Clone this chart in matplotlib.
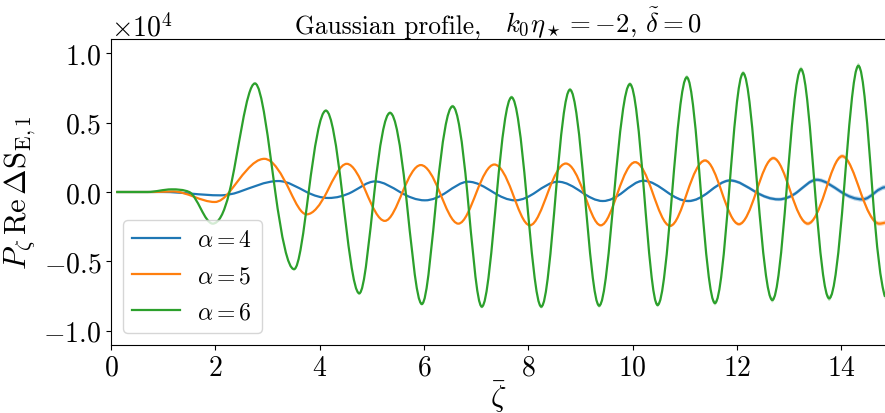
import numpy as np
import matplotlib
matplotlib.use("Agg")
import matplotlib.pyplot as plt
from matplotlib.path import Path
from matplotlib.patches import PathPatch

plt.rcParams['font.family'] = ['serif']
plt.rcParams['font.serif'] = ['cmr10', 'DejaVu Serif']
plt.rcParams['mathtext.fontset'] = 'cm'
plt.rcParams['axes.formatter.use_mathtext'] = True
plt.rcParams['axes.unicode_minus'] = True

# ---- data (y values in units of 1e4) ----
UNIT = 1e4

blue_x = [0.10, 1.00, 2.09, 2.45, 3.21, 3.75, 4.17, 4.62, 5.06, 5.54, 6.02, 6.44,
          6.85, 7.32, 7.75, 8.15, 8.57, 9.02, 9.43, 9.82, 10.21, 10.66, 11.07,
          11.46, 11.87, 12.36, 12.80, 13.16, 13.53, 14.00, 14.41, 14.66, 14.84]
blue_y = [0.0, 0.0, -0.024, 0.0, 0.079, 0.0, -0.043, 0.0, 0.076, 0.0, -0.060, 0.0,
          0.074, 0.0, -0.060, 0.0, 0.074, 0.0, -0.065, 0.0, 0.081, 0.0, -0.065,
          0.0, 0.083, 0.0, -0.053, 0.0, 0.088, 0.0, -0.053, 0.0, 0.035]

orange_x = [0.10, 0.80, 1.19, 1.99, 2.27, 2.94, 3.44, 3.75, 4.14, 4.52, 4.89, 5.25,
            5.59, 5.94, 6.30, 6.66, 7.01, 7.35, 7.69, 8.03, 8.38, 8.72, 9.06, 9.39,
            9.72, 10.05, 10.38, 10.72, 11.05, 11.39, 11.71, 12.04, 12.37, 12.70,
            13.03, 13.36, 13.69, 14.02, 14.37, 14.73, 14.84]
orange_y = [0.0, 0.0, 0.004, -0.072, 0.0, 0.239, 0.0, -0.161, 0.0, 0.203, 0.0, -0.208,
            0.0, 0.194, 0.0, -0.228, 0.0, 0.198, 0.0, -0.240, 0.0, 0.205, 0.0, -0.240,
            0.0, 0.215, 0.0, -0.244, 0.0, 0.227, 0.0, -0.232, 0.0, 0.244,
            0.0, -0.228, 0.0, 0.258, 0.0, -0.228, -0.220]

green_x = [0.10, 0.70, 1.16, 1.50, 1.95, 2.27, 2.76, 3.15, 3.51, 3.79, 4.12, 4.43,
           4.76, 5.05, 5.35, 5.65, 5.96, 6.25, 6.55, 6.83, 7.11, 7.40, 7.68, 7.96,
           8.25, 8.53, 8.80, 9.08, 9.36, 9.65, 9.95, 10.22, 10.48, 10.76, 11.04,
           11.31, 11.58, 11.85, 12.12, 12.40, 12.68, 12.95, 13.23, 13.50, 13.77,
           14.05, 14.33, 14.60, 14.84]
green_y = [0.0, 0.0, 0.019, 0.0, -0.228, 0.0, 0.782, 0.0, -0.556, 0.0, 0.586, 0.0,
           -0.730, 0.0, 0.570, 0.0, -0.807, 0.0, 0.617, 0.0, -0.826, 0.0, 0.682, 0.0,
           -0.826, 0.0, 0.737, 0.0, -0.819, 0.0, 0.777, 0.0, -0.814, 0.0, 0.826,
           0.0, -0.800, 0.0, 0.856, 0.0, -0.778, 0.0, 0.885, 0.0, -0.766,
           0.0, 0.909, 0.0, -0.755]

# uncertainty band half-widths (units of 1e4) read at a few abscissae
err_x = [0.0, 4.0, 8.0, 11.0, 14.84]
blue_err = [0.0, 0.001, 0.004, 0.009, 0.018]
orange_err = [0.0, 0.002, 0.005, 0.010, 0.017]
green_err = [0.0, 0.010, 0.013, 0.016, 0.020]

labels = [r'$\alpha = 4$', r'$\alpha = 5$', r'$\alpha = 6$']
colors = ['#1f77b4', '#ff7f0e', '#2ca02c']
title_text = 'Gaussian profile,'
title_math = r'$k_0\eta_\star = -2$, $\tilde{\delta} = 0$'


def knot_slopes(x, y):
    x = np.asarray(x, float); y = np.asarray(y, float)
    s = np.diff(y) / np.diff(x)
    m = np.zeros(len(x))
    for i in range(1, len(x) - 1):
        if s[i - 1] * s[i] > 0:
            hm = 2 * s[i - 1] * s[i] / (s[i - 1] + s[i])
            lim = 3 * min(abs(s[i - 1]), abs(s[i]))
            m[i] = np.sign(hm) * min(abs(np.pi / 2 * hm), lim)
    me = 2 * s[-1] - m[-2]
    m[-1] = me if me * s[-1] > 0 else 0.0
    return m


def bezier_vertices(x, y):
    x = np.asarray(x, float); y = np.asarray(y, float)
    m = knot_slopes(x, y)
    verts = [(x[0], y[0])]
    for i in range(len(x) - 1):
        h = x[i + 1] - x[i]
        verts.append((x[i] + h / 3, y[i] + m[i] * h / 3))
        verts.append((x[i + 1] - h / 3, y[i + 1] - m[i + 1] * h / 3))
        verts.append((x[i + 1], y[i + 1]))
    return np.array(verts)


DPI = 100
W, H = 885, 414
fig = plt.figure(figsize=(W / DPI, H / DPI), dpi=DPI)
ax = fig.add_axes([111 / W, 1 - 345.7 / H, (W - 111) / W, (345.7 - 40.3) / H])

series = [(blue_x, blue_y, blue_err), (orange_x, orange_y, orange_err),
          (green_x, green_y, green_err)]

for k, ((xs, ys, es), col, lab) in enumerate(zip(series, colors, labels)):
    v = bezier_vertices(xs, ys)
    n = len(v)
    codes = [Path.MOVETO] + [Path.CURVE4] * (n - 1)
    e = np.interp(v[:, 0], err_x, es)
    up = np.column_stack([v[:, 0], (v[:, 1] + e) * UNIT])
    lo = np.column_stack([v[:, 0], (v[:, 1] - e) * UNIT])[::-1]
    band_verts = np.vstack([up, lo, up[:1]])
    band_codes = codes + [Path.LINETO] + [Path.CURVE4] * (n - 1) + [Path.CLOSEPOLY]
    ax.add_patch(PathPatch(Path(band_verts, band_codes), facecolor=col, alpha=0.3,
                           edgecolor='none', zorder=2 + k))
    line_verts = np.column_stack([v[:, 0], v[:, 1] * UNIT])
    ax.add_patch(PathPatch(Path(line_verts, codes), facecolor='none', edgecolor=col,
                           lw=1.6, zorder=2.5 + k))
    ax.plot([], [], color=col, lw=1.6, label=lab)

ax.set_xlim(0, 14.84)
ax.set_ylim(-1.1 * UNIT, 1.1 * UNIT)
ax.set_xticks([0, 2, 4, 6, 8, 10, 12, 14])
ax.set_yticks([-1.0 * UNIT, -0.5 * UNIT, 0, 0.5 * UNIT, 1.0 * UNIT])
ax.ticklabel_format(axis='y', style='sci', scilimits=(0, 0))
ax.tick_params(labelsize=20)
ax.yaxis.get_offset_text().set_fontsize(20)
ax.spines['right'].set_visible(False)

ax.set_xlabel(r'$\bar{\zeta}$', fontsize=22, labelpad=-2)
ax.set_ylabel(r'$P_\zeta\,\mathrm{Re}\,\Delta\mathrm{S}_{\mathrm{E},1}$', fontsize=22)

# title in two parts, each fitted to the reference extents (pixels)
base_y = 1 - 33.5 / H
t1 = fig.text(295 / W, base_y, title_text, fontsize=20, ha='left', va='baseline')
t2 = fig.text(505 / W, base_y, title_math, fontsize=20, ha='left', va='baseline')
fig.canvas.draw()
r = fig.canvas.get_renderer()
t1.set_fontsize(20 * 187.0 / t1.get_window_extent(r).width)
t2.set_fontsize(20 * 197.0 / t2.get_window_extent(r).width)

# legend sized to the reference box
leg = ax.legend(loc='lower left', fontsize=16)
fig.canvas.draw()
lw_txt = leg.get_texts()[0].get_window_extent(r).width
lfs = 16 * 55.0 / lw_txt
fs_px = lfs * DPI / 72.0
leg.remove()
leg = ax.legend(loc='lower left', fontsize=lfs, handlelength=48.0 / fs_px,
                handletextpad=17.0 / fs_px)
fig.canvas.draw()
th = max(t.get_window_extent(r).height for t in leg.get_texts())
rowh = max(th, 0.7 * fs_px)
lsp = max(0.1, (36.0 - rowh) / fs_px)
leg.remove()
ax.legend(loc='lower left', fontsize=lfs, handlelength=48.0 / fs_px,
          handletextpad=17.0 / fs_px, labelspacing=lsp)

fig.savefig('out.png', dpi=DPI)
